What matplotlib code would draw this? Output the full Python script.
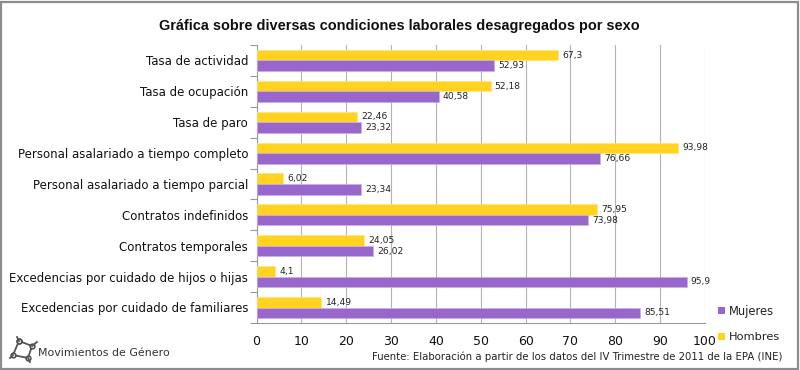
import matplotlib
matplotlib.use("Agg")
import matplotlib.pyplot as plt
import numpy as np
from matplotlib.patches import Rectangle

categories = ["Tasa de actividad", "Tasa de ocupación", "Tasa de paro",
              "Personal asalariado a tiempo completo", "Personal asalariado a tiempo parcial",
              "Contratos indefinidos", "Contratos temporales",
              "Excedencias por cuidado de hijos o hijas", "Excedencias por cuidado de familiares"]
hombres = [67.3, 52.18, 22.46, 93.98, 6.02, 75.95, 24.05, 4.1, 14.49]
mujeres = [52.93, 40.58, 23.32, 76.66, 23.34, 73.98, 26.02, 95.9, 85.51]
x_ticks = [0, 10, 20, 30, 40, 50, 60, 70, 80, 90, 100]

W, H = 800, 370
PURPLE = "#9966cc"
YELLOW = "#ffd320"

plt.rcParams['font.family'] = 'DejaVu Sans'
fig = plt.figure(figsize=(8, 3.7), dpi=100)

# outer grey frame
fig.add_artist(Rectangle((1 / W, 1 / H), 797 / W, 367 / H, transform=fig.transFigure,
                         fill=False, edgecolor="#8c8c8c", linewidth=1.6))

ax = fig.add_axes([256.5 / W, 1 - 323 / H, 448.5 / W, 278 / H])
y = np.arange(len(categories))
h = 0.34
ax.barh(y - h / 2, hombres, h, color=YELLOW, edgecolor="#ffe680", linewidth=0.5, label="Hombres", zorder=3)
ax.barh(y + h / 2, mujeres, h, color=PURPLE, edgecolor="#c9aee6", linewidth=0.5, label="Mujeres", zorder=3)

ax.set_xlim(0, 100)
ax.set_ylim(len(categories) - 0.5, -0.5)
ax.set_xticks(x_ticks)
ax.set_yticks(np.arange(len(categories) + 1) - 0.5, minor=False)
ax.set_yticklabels([])
ax.tick_params(axis='y', length=5, color="#999999", width=0.8)
ax.tick_params(axis='x', length=0, labelsize=9, pad=8.5, colors="#111111")
ax.grid(axis='x', color="#b3b3b3", linewidth=0.8, zorder=0)
for s in ['top', 'right']:
    ax.spines[s].set_visible(False)
for s in ['left', 'bottom']:
    ax.spines[s].set_color("#999999")
    ax.spines[s].set_linewidth(0.8)

for i, name in enumerate(categories):
    ax.annotate(name, (0, i), xycoords=('data', 'data'), xytext=(-6, -1),
                textcoords='offset points', ha='right', va='center', fontsize=8.45, color="#111111")

for i in y:
    ax.annotate(str(hombres[i]).replace(".", ","), (hombres[i], i - h / 2), xytext=(3, 0),
                textcoords='offset points', va='center', fontsize=6.6, color="#222222", zorder=5)
    ax.annotate(str(mujeres[i]).replace(".", ","), (mujeres[i], i + h / 2), xytext=(3, 0),
                textcoords='offset points', va='center', fontsize=6.6, color="#222222", zorder=5)

fig.text(399.5 / W, 1 - 26 / H, "Gráfica sobre diversas condiciones laborales desagregados por sexo",
         ha='center', va='center', fontsize=10.47, fontweight='bold', family='Liberation Sans', color="#111111")

# legend
fig.add_artist(Rectangle((718 / W, 1 - 314 / H), 7 / W, 7 / H, transform=fig.transFigure,
                         facecolor=PURPLE, edgecolor='none'))
fig.add_artist(Rectangle((718 / W, 1 - 340 / H), 7 / W, 7 / H, transform=fig.transFigure,
                         facecolor=YELLOW, edgecolor='none'))
fig.text(729 / W, 1 - 311 / H, "Mujeres", va='center', fontsize=8.3, color="#222222")
fig.text(729 / W, 1 - 337 / H, "Hombres", va='center', fontsize=8.2, color="#222222")

fig.text(783 / W, 1 - 357 / H, "Fuente: Elaboración a partir de los datos del IV Trimestre de 2011 de la EPA (INE)",
         ha='right', va='center', fontsize=7.27, color="#222222")

# logo
fig.text(38 / W, 1 - 352.5 / H, "Movimientos de Género", va='center', fontsize=7.9, color="#333333")
nx = np.array([19, 32, 28, 13, 19]) / W
ny = 1 - np.array([341, 346, 358, 355, 341]) / H
fig.add_artist(plt.Line2D(nx, ny, transform=fig.transFigure, color="#555555", linewidth=1.3,
                          marker='o', markersize=3.5, markerfacecolor="#dddddd", markeredgecolor="#444444"))
for sx, sy in [((19, 17), (341, 337)), ((32, 37), (346, 342)), ((28, 30), (358, 362)), ((13, 10), (355, 358))]:
    fig.add_artist(plt.Line2D(np.array(sx) / W, 1 - np.array(sy) / H, transform=fig.transFigure,
                              color="#555555", linewidth=1.3))

fig.savefig("out.png", dpi=100)
